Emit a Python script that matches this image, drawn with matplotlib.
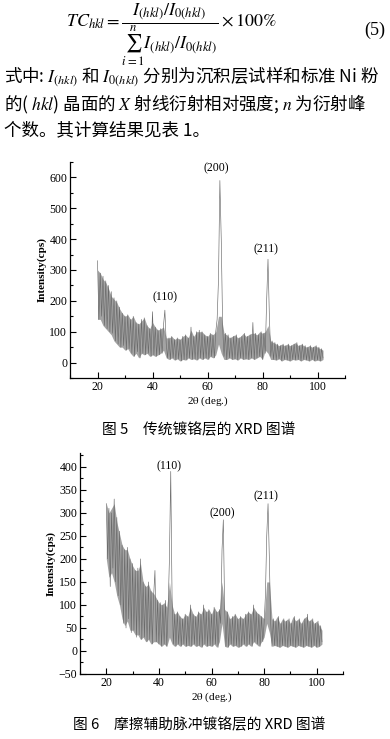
import numpy as np
import matplotlib
matplotlib.use("Agg")
import matplotlib.pyplot as plt
from matplotlib.ticker import MultipleLocator

plt.rcParams['font.family'] = ['Liberation Serif', 'Noto Sans CJK SC', 'DejaVu Sans']
plt.rcParams['mathtext.fontset'] = 'stix'

# ---------------- data ----------------
theta_start = 20.0
theta_step = 0.5      # trace sampling
env_step = 1.0        # envelope sampling

# Fig.5 traditional chromium coating (intensity, cps) every 0.5 deg from 20 deg
fig5_intensity = [
    330, 140, 290, 150, 280, 120, 265, 110, 250, 100,
    230, 95, 210, 70, 200, 60, 180, 50, 160, 55,
    150, 40, 155, 45, 140, 30, 150, 20, 130, 35,
    125, 15, 140, 30, 145, 25, 120, 30, 110, 20,
    165, 25, 115, 20, 105, 25, 110, 30, 120, 170,
    60, 15, 80, 10, 85, 15, 75, 8, 80, 12,
    75, 5, 85, 10, 90, 8, 80, 15, 115, 10,
    85, 12, 100, 8, 105, 15, 100, 10, 90, 15,
    85, 10, 95, 20, 90, 15, 100, 140, 270, 590,
    400, 120, 20, 95, 10, 90, 15, 80, 10, 85,
    12, 90, 8, 80, 15, 85, 10, 95, 12, 85,
    10, 90, 15, 130, 10, 95, 15, 90, 20, 100,
    10, 95, 30, 200, 335, 150, 20, 70, 10, 65,
    8, 60, 12, 55, 5, 60, 10, 55, 8, 60,
    5, 55, 10, 60, 8, 65, 10, 55, 5, 60,
    10, 55, 8, 50, 5, 55, 10, 50, 5, 55,
    8, 50, 5, 45, 15,
]
# noise band envelope, every 1 deg from 20 deg
fig5_upper = [
    300, 290, 270, 260, 240, 215, 205, 195, 175, 160,
    150, 155, 140, 150, 130, 125, 135, 145, 120, 110,
    130, 115, 105, 110, 115, 80, 80, 85, 75, 80,
    75, 85, 90, 80, 105, 85, 100, 100, 100, 90,
    85, 95, 90, 100, 150, 150, 95, 90, 80, 85,
    90, 80, 85, 95, 85, 90, 95, 95, 90, 100,
    95, 100, 120, 70, 65, 60, 55, 60, 55, 60,
    55, 60, 65, 55, 60, 55, 50, 55, 50, 55,
    50, 45, 40,
]
fig5_lower = [
    140, 140, 120, 110, 100, 90, 70, 60, 50, 50,
    40, 45, 30, 20, 30, 15, 30, 25, 30, 20,
    25, 20, 25, 30, 40, 15, 10, 15, 8, 12,
    5, 10, 8, 15, 10, 12, 8, 15, 10, 15,
    10, 20, 15, 25, 60, 30, 10, 10, 15, 10,
    12, 8, 15, 10, 12, 10, 15, 10, 15, 20,
    10, 40, 30, 10, 10, 8, 12, 5, 10, 8,
    5, 10, 8, 10, 5, 10, 8, 5, 10, 5,
    8, 5, 10,
]

# Fig.6 friction-assisted pulse chromium coating
fig6_intensity = [
    320, 200, 310, 140, 300, 180, 330, 150, 290, 120,
    260, 100, 230, 60, 220, 50, 225, 70, 200, 40,
    190, 45, 175, 30, 180, 35, 200, 25, 150, 30,
    140, 20, 150, 25, 130, 15, 120, 175, 20, 110,
    15, 105, 10, 100, 15, 110, 10, 90, 200, 390,
    120, 15, 80, 10, 85, 15, 75, 10, 70, 15,
    80, 10, 75, 12, 100, 10, 80, 15, 75, 10,
    85, 12, 80, 8, 100, 15, 85, 10, 90, 12,
    80, 10, 95, 15, 85, 8, 90, 60, 220, 285,
    90, 10, 85, 8, 70, 15, 75, 10, 80, 12,
    70, 8, 75, 10, 70, 15, 80, 10, 85, 15,
    80, 10, 100, 20, 85, 15, 80, 10, 75, 20,
    60, 120, 250, 320, 200, 60, 10, 70, 12, 65,
    10, 75, 8, 60, 12, 70, 10, 65, 8, 70,
    12, 60, 10, 75, 8, 65, 12, 70, 10, 60,
    8, 70, 12, 80, 10, 65, 8, 70, 12, 60,
    8, 65, 10, 55, 20,
]
fig6_upper = [
    320, 300, 310, 320, 280, 255, 230, 220, 220, 200,
    185, 175, 175, 190, 150, 140, 145, 130, 125, 115,
    105, 100, 105, 95, 150, 100, 80, 85, 75, 70,
    80, 75, 95, 80, 75, 85, 80, 95, 85, 90,
    80, 95, 85, 90, 150, 90, 85, 70, 75, 80,
    70, 75, 70, 80, 85, 80, 95, 85, 80, 75,
    70, 150, 150, 70, 65, 75, 60, 70, 65, 70,
    60, 75, 65, 70, 60, 70, 75, 65, 70, 60,
    65, 55, 45,
]
fig6_lower = [
    200, 160, 170, 150, 120, 100, 70, 55, 65, 45,
    45, 35, 35, 25, 30, 20, 25, 15, 20, 20,
    15, 10, 15, 10, 30, 15, 10, 15, 10, 15,
    10, 12, 10, 15, 10, 12, 8, 15, 10, 12,
    10, 15, 8, 20, 60, 10, 8, 15, 10, 12,
    8, 10, 15, 10, 15, 10, 20, 15, 10, 20,
    30, 60, 40, 10, 12, 10, 8, 12, 10, 8,
    12, 10, 8, 12, 10, 8, 12, 10, 8, 12,
    8, 10, 15,
]

fig5_peaks = ["(110)", "(200)", "(211)"]
fig5_peak_pos = [(44.7, 213), (63.3, 629), (81.1, 368)]
fig6_peaks = ["(110)", "(200)", "(211)"]
fig6_peak_pos = [(43.8, 402), (64.2, 298), (80.6, 335)]

W, H = 390, 739
fig = plt.figure(figsize=(W / 100, H / 100), dpi=100)
fig.patch.set_facecolor('white')

def fx(px):
    return px / W

def fy(py):
    return 1 - py / H

# ---------------- formula & text ----------------
fig.text(fx(171), fy(35),
         r"$TC_{hkl}=\dfrac{I_{(hkl)}/I_{0(hkl)}}{\sum_{i=1}^{n}I_{(hkl)}/I_{0(hkl)}}\times 100\%$",
         ha='center', va='center', fontsize=13)
fig.text(fx(385), fy(30), "(5)", ha='right', va='center', fontsize=13,
         family=['Liberation Serif'])

para = [
    r"式中: $I_{(hkl)}$ 和 $I_{0(hkl)}$ 分别为沉积层试样和标准 Ni 粉",
    r"的( $hkl$) 晶面的 $X$ 射线衍射相对强度; $n$ 为衍射峰",
    "个数。其计算结果见表 1。",
]
para_y = [77, 104, 130]
for line, yy in zip(para, para_y):
    fig.text(fx(4), fy(yy), line, ha='left', va='center', fontsize=12.6,
             family=['Noto Sans CJK SC', 'Liberation Serif'])

# ---------------- chart helpers ----------------
def style_axes(ax, ylim, ymaj, ymin):
    ax.set_xlim(10, 110)
    ax.set_ylim(*ylim)
    for s in ('top', 'right'):
        ax.spines[s].set_visible(False)
    for s in ('left', 'bottom'):
        ax.spines[s].set_linewidth(0.9)
    ax.xaxis.set_major_locator(MultipleLocator(20))
    ax.xaxis.set_minor_locator(MultipleLocator(10))
    ax.yaxis.set_major_locator(MultipleLocator(ymaj))
    ax.yaxis.set_minor_locator(MultipleLocator(ymin))
    ax.tick_params(which='both', direction='in', width=0.8, labelsize=8.5, pad=2)
    ax.tick_params(which='major', length=4)
    ax.tick_params(which='minor', length=2.5)
    ax.set_xticks([20, 40, 60, 80, 100])
    ax.set_xlabel(r"2$\mathrm{\theta}$ (deg.)", fontsize=8, labelpad=1)
    ax.set_ylabel("Intensity(cps)", fontsize=8, fontweight='bold', labelpad=2)

def draw_trace(ax, trace, upper, lower):
    xe = theta_start + env_step * np.arange(len(upper))
    ax.fill_between(xe, lower, upper, color='#a3a3a3', lw=0)
    xt = theta_start + theta_step * np.arange(len(trace))
    ax.plot(xt, trace, color='#6a6a6a', lw=0.45)

# ---------------- Fig. 5 ----------------
ax1 = fig.add_axes([fx(70), fy(378), fx(345) - fx(70), fy(162) - fy(378)])
draw_trace(ax1, fig5_intensity, fig5_upper, fig5_lower)
style_axes(ax1, (-50, 650), 100, 50)
for lab, (px, py) in zip(fig5_peaks, fig5_peak_pos):
    ax1.text(px, py, lab, ha='center', va='center', fontsize=8.5)

fig.text(fx(199), fy(430), "图 5　传统镀铬层的 XRD 图谱", ha='center', va='center',
         fontsize=10.6, family=['Noto Sans CJK SC', 'Liberation Serif'])

# ---------------- Fig. 6 ----------------
ax2 = fig.add_axes([fx(80), fy(674), fx(343) - fx(80), fy(453) - fy(674)])
draw_trace(ax2, fig6_intensity, fig6_upper, fig6_lower)
style_axes(ax2, (-50, 430), 50, 25)
for lab, (px, py) in zip(fig6_peaks, fig6_peak_pos):
    ax2.text(px, py, lab, ha='center', va='center', fontsize=8.5)

fig.text(fx(199), fy(725), "图 6　摩擦辅助脉冲镀铬层的 XRD 图谱", ha='center', va='center',
         fontsize=10.6, family=['Noto Sans CJK SC', 'Liberation Serif'])

fig.savefig("out.png", dpi=100, facecolor='white')
